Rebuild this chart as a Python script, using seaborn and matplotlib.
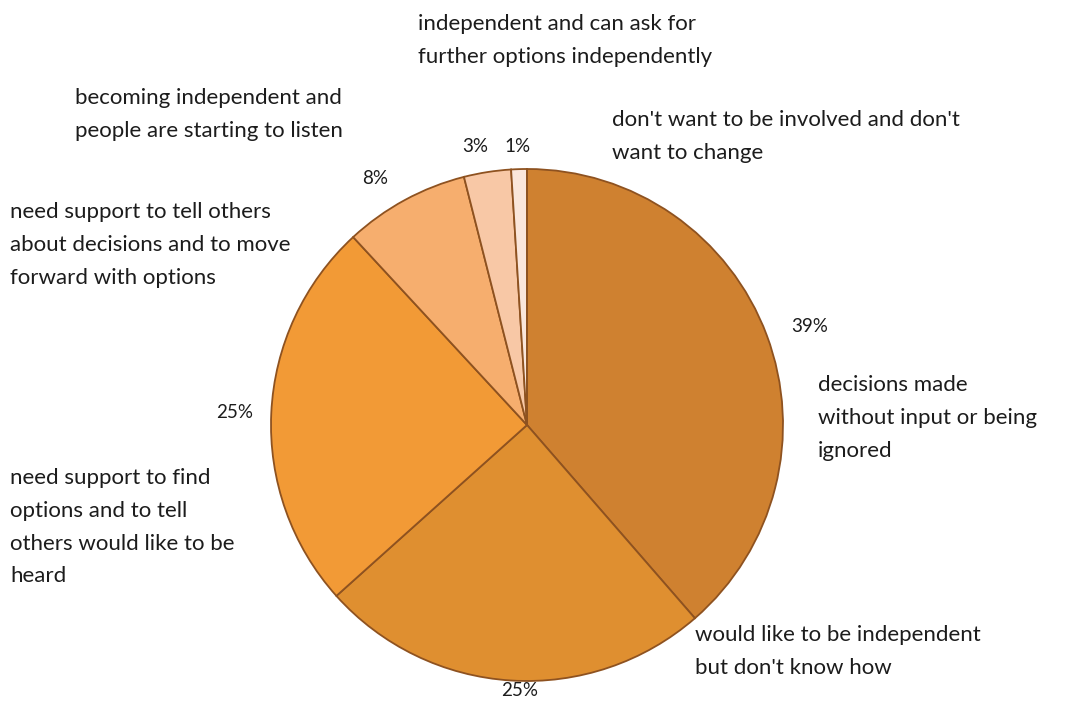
import matplotlib
matplotlib.use("Agg")
import matplotlib.pyplot as plt
import seaborn as sns

# Responses, clockwise from 12 o'clock
categories = [
    "decisions made\nwithout input or being\nignored",
    "would like to be independent\nbut don't know how",
    "need support to find\noptions and to tell\nothers would like to be\nheard",
    "need support to tell others\nabout decisions and to move\nforward with options",
    "becoming independent and\npeople are starting to listen",
    "independent and can ask for\nfurther options independently",
    "don't want to be involved and don't\nwant to change",
]
shares = [39, 25, 25, 8, 3, 1, 0]
colors = ["#CF8130", "#DF8F30", "#F29A36", "#F6AE6E", "#F8C8A6", "#FAE6DA", "#FDF3EE"]

# Layout in pixel units (y measured downward from the top edge, first-line centre)
W, H = 1086, 701
cx, cy, R = 527, H - 425, 256
name_pos = [(818, 383), (695, 633), (10, 476), (10, 210), (75, 96), (418, 22), (612, 118)]
pct_pos = [(810, 327), (520, 690), (235, 413), (375, 178), (475, 146), (518, 146), None]

sns.set_theme(style="white")
plt.rcParams["font.family"] = ["Lato", "DejaVu Sans"]

fig = plt.figure(figsize=(W / 100, H / 100), dpi=100)
ax = fig.add_axes([0, 0, 1, 1])

wedges, _ = ax.pie(
    shares,
    colors=colors,
    startangle=90,
    counterclock=False,
    center=(cx, cy),
    radius=R,
    wedgeprops=dict(edgecolor="#8E5220", linewidth=1.3),
)

ax.set_xlim(0, W)
ax.set_ylim(0, H)
ax.set_aspect("auto")
ax.axis("off")

text_color = "#1c1c1c"
for label, (x, y) in zip(categories, name_pos):
    ax.text(x, H - (y - 8), label, ha="left", va="top", fontsize=16,
            color=text_color, linespacing=1.8)

for v, pos in zip(shares, pct_pos):
    if pos is None or v == 0:
        continue
    ax.text(pos[0], H - pos[1], f"{v}%", ha="center", va="center",
            fontsize=13.5, color=text_color)

fig.savefig("out.png", dpi=100, facecolor="white")
